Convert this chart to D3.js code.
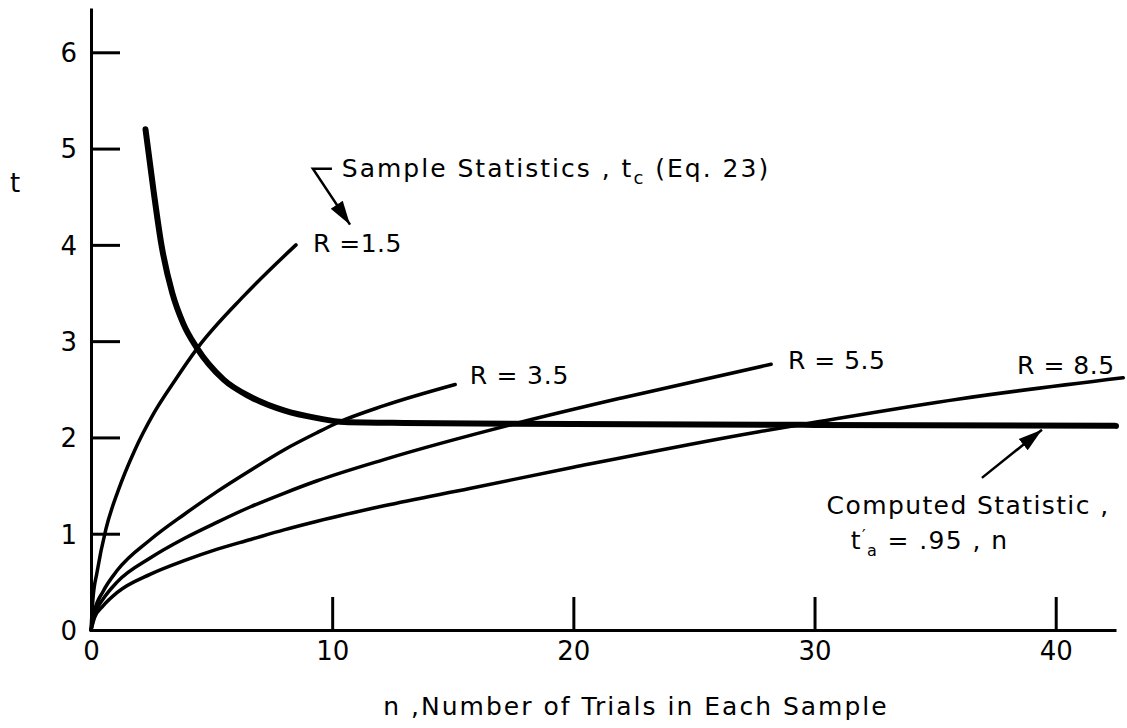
<!DOCTYPE html>
<html>
<head>
<meta charset="utf-8">
<script src="https://cdn.jsdelivr.net/npm/d3@7"></script>
<style>
  body { margin: 0; background: #fff; }
  text { font-family: "DejaVu Sans", "Liberation Sans", sans-serif; fill: #000; }
</style>
</head>
<body>
<div id="chart"></div>
<script>
// values: n (trials) and t
var nR15 = [0, 0.08, 0.25, 0.62, 1.13, 1.8, 2.6, 3.5, 4.39, 6.34, 8.5];
var tR15 = [0, 0.32, 0.6, 1.05, 1.45, 1.86, 2.25, 2.6, 2.92, 3.47, 4.0];

var nR35 = [0, 0.15, 0.5, 1.09, 2.47, 3.86, 5.24, 6.62, 8.0, 9.38, 10.2, 12.15, 15.1];
var tR35 = [0, 0.2, 0.4, 0.62, 0.94, 1.2, 1.44, 1.66, 1.87, 2.05, 2.15, 2.33, 2.55];

var nR55 = [0, 0.15, 0.5, 1.09, 2.47, 3.86, 5.24, 6.62, 8.0, 9.38, 12.15, 17.7, 22, 28.2];
var tR55 = [0, 0.16, 0.32, 0.5, 0.75, 0.95, 1.12, 1.28, 1.42, 1.55, 1.77, 2.15, 2.41, 2.76];

var nR85 = [0, 0.15, 0.5, 1.09, 2.47, 3.86, 5.24, 6.62, 8.0, 9.38, 12.15, 15.7, 20, 27.7, 29.6, 36, 42.8];
var tR85 = [0, 0.13, 0.25, 0.39, 0.58, 0.72, 0.84, 0.94, 1.04, 1.13, 1.29, 1.47, 1.69, 2.06, 2.14, 2.4, 2.62];

// computed statistic t'
var nComp = [2.26, 2.6, 2.92, 3.37, 3.83, 4.39, 5.5, 6.62, 8.0, 9.38, 10.5, 13, 20, 30, 42.5];
var tComp = [5.2, 4.55, 4.0, 3.5, 3.18, 2.93, 2.6, 2.42, 2.28, 2.2, 2.16, 2.15, 2.14, 2.13, 2.12];

var xTicks = [0, 10, 20, 30, 40];
var yTicks = [0, 1, 2, 3, 4, 5, 6];

var width = 1127, height = 728;

var svg = d3.select("#chart").append("svg")
    .attr("width", width)
    .attr("height", height);

var x = d3.scaleLinear().domain([0, 42.5]).range([91, 1116]);
var y = d3.scaleLinear().domain([0, 6.46]).range([630, 8]);

function pairs(ns, ts) {
    return ns.map(function (n, i) { return [n, ts[i]]; });
}

var line = d3.line()
    .x(function (d) { return x(d[0]); })
    .y(function (d) { return y(d[1]); })
    .curve(d3.curveMonotoneX);

// axes, ticks pointing inward
var yAxis = d3.axisLeft(y).tickValues(yTicks).tickSize(-29).tickSizeOuter(0).tickPadding(14)
    .tickFormat(d3.format("d"));
var xAxis = d3.axisBottom(x).tickValues(xTicks).tickSize(-33).tickSizeOuter(0).tickPadding(12)
    .tickFormat(d3.format("d"));

var gy = svg.append("g").attr("transform", "translate(" + x(0) + ",0)").call(yAxis);
var gx = svg.append("g").attr("transform", "translate(0," + y(0) + ")").call(xAxis);

[gx, gy].forEach(function (g) {
    g.select(".domain").attr("stroke", "#000").attr("stroke-width", 3);
    g.selectAll(".tick line").attr("stroke", "#000").attr("stroke-width", 3);
    g.selectAll(".tick text").style("font-size", "26px").attr("fill", "#000");
    g.attr("font-family", null);
});
gy.selectAll(".tick").filter(function (d) { return d === 0; }).select("line").remove();
gx.selectAll(".tick").filter(function (d) { return d === 0; }).select("line").remove();
gy.selectAll(".tick text").attr("dy", "0.36em");

// curves
var series = [pairs(nR15, tR15), pairs(nR35, tR35), pairs(nR55, tR55), pairs(nR85, tR85)];
svg.selectAll(".rcurve")
    .data(series)
    .enter()
    .append("path")
    .attr("class", "rcurve")
    .attr("d", line)
    .attr("fill", "none")
    .attr("stroke", "#000")
    .attr("stroke-width", 3.5)
    .attr("stroke-linecap", "round");

svg.append("path")
    .datum(pairs(nComp, tComp))
    .attr("d", line)
    .attr("fill", "none")
    .attr("stroke", "#000")
    .attr("stroke-width", 6)
    .attr("stroke-linecap", "round");

// labels
function label(n, t, txt, spacing) {
    return svg.append("text")
        .attr("x", x(n))
        .attr("y", y(t))
        .attr("dy", "0.36em")
        .style("font-size", "25px")
        .style("letter-spacing", (spacing || 0) + "px")
        .text(txt);
}
label(9.2, 4.02, "R =1.5", 0.5);
label(15.7, 2.65, "R = 3.5", 0.8);
label(28.9, 2.8, "R = 5.5", 0.5);
label(38.4, 2.75, "R = 8.5", 0.5);

var ss = label(10.4, 4.8, "Sample Statistics , t", 2);
ss.append("tspan").attr("dy", 7).style("font-size", "18px").text("c");
ss.append("tspan").attr("dy", -7).text("  (Eq. 23)");

label(30.5, 1.3, "Computed Statistic ,", 1.4);
var tp = label(31.5, 0.93, "t", 1.4);
tp.append("tspan").attr("dy", -8).style("font-size", "16px").text("′");
tp.append("tspan").attr("dy", 15).style("font-size", "16px").text("a");
tp.append("tspan").attr("dy", -7).text(" = .95 , n");

// axis titles
svg.append("text").attr("x", 15).attr("y", 183).attr("dy", "0.36em")
    .attr("text-anchor", "middle").style("font-size", "26px").text("t");
svg.append("text").attr("x", 636).attr("y", 706).attr("dy", "0.36em")
    .attr("text-anchor", "middle").style("font-size", "25px")
    .style("letter-spacing", "2px")
    .text("n ,Number of  Trials  in Each  Sample");

// arrows
svg.append("defs").append("marker")
    .attr("id", "head")
    .attr("viewBox", "0 0 10 10")
    .attr("refX", 10).attr("refY", 5)
    .attr("markerWidth", 24).attr("markerHeight", 24)
    .attr("markerUnits", "userSpaceOnUse")
    .attr("orient", "auto")
    .append("path").attr("d", "M0,2 L10,5 L0,8 Z").attr("fill", "#000");

var arrowLine = d3.line()
    .x(function (d) { return x(d[0]); })
    .y(function (d) { return y(d[1]); });

svg.append("path")
    .datum([[9.99, 4.79], [9.2, 4.79], [10.74, 4.21]])
    .attr("d", arrowLine)
    .attr("fill", "none").attr("stroke", "#000").attr("stroke-width", 2.5)
    .attr("marker-end", "url(#head)");

svg.append("path")
    .datum([[36.94, 1.58], [39.43, 2.08]])
    .attr("d", arrowLine)
    .attr("fill", "none").attr("stroke", "#000").attr("stroke-width", 2.5)
    .attr("marker-end", "url(#head)");
</script>
</body>
</html>
